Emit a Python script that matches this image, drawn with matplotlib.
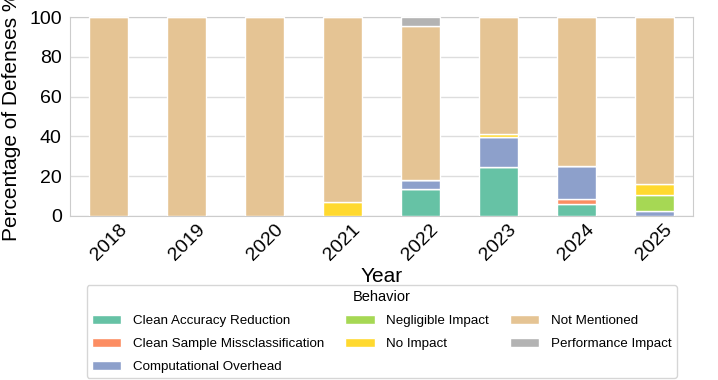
import matplotlib
matplotlib.use("Agg")
import matplotlib.pyplot as plt
import numpy as np

years = ["2018", "2019", "2020", "2021", "2022", "2023", "2024", "2025"]
behaviors = ["Clean Accuracy Reduction", "Clean Sample Missclassification",
             "Computational Overhead", "Negligible Impact", "No Impact",
             "Not Mentioned", "Performance Impact"]
clean_acc = [0, 0, 0, 0, 13.6, 24.4, 6.2, 0]
clean_miss = [0, 0, 0, 0, 0, 0, 2.2, 0]
comp_over = [0, 0, 0, 0, 4.5, 15.2, 16.9, 2.3]
negligible = [0, 0, 0, 0, 0, 0, 0, 8.3]
no_impact = [0, 0, 0, 7.1, 0, 1.8, 0, 5.5]
not_mentioned = [100, 100, 100, 92.9, 77.3, 58.6, 74.7, 83.9]
perf_impact = [0, 0, 0, 0, 4.5, 0, 0, 0]
series = [clean_acc, clean_miss, comp_over, negligible, no_impact, not_mentioned, perf_impact]
colors = ["#66c2a5", "#fc8d62", "#8da0cb", "#a6d854", "#ffd92f", "#e5c494", "#b3b3b3"]

plt.rcParams['font.family'] = ['Liberation Sans', 'DejaVu Sans']
fig = plt.figure(figsize=(7.18, 3.80), dpi=100)
ax_left, ax_w = 0.0975, 0.868
ax = fig.add_axes([ax_left, 0.432, ax_w, 0.523])
x = np.arange(len(years))
bottom = np.zeros(len(years))
for name, vals, c in zip(behaviors, series, colors):
    v = np.array(vals, dtype=float)
    ax.bar(x, v, 0.5, bottom=bottom, color=c, edgecolor="white", linewidth=1, label=name, zorder=3)
    bottom += v

ax.set_xlim(-0.5, len(years) - 0.5)
ax.set_ylim(0, 100)
ax.set_yticks([0, 20, 40, 60, 80, 100])
ax.set_xticks(x)
ax.set_xticklabels(years, rotation=45, fontsize=14)
ax.tick_params(axis='y', labelsize=14, length=0, pad=6)
ax.tick_params(axis='x', length=0, pad=4)
ax.grid(axis='y', color='#dddddd', linewidth=1, zorder=0)
for s in ax.spines.values():
    s.set_color('#cccccc')
ax.set_xlabel("Year", fontsize=15, labelpad=2)
ax.set_ylabel("Percentage of Defenses %", fontsize=15, labelpad=6)

leg = fig.legend(loc='upper center', bbox_to_anchor=(ax_left + ax_w / 2, 0.25),
                 ncol=3, title="Behavior", fontsize=9.6, title_fontsize=10.5,
                 frameon=True, handlelength=2.2, handleheight=0.65, handletextpad=0.85,
                 columnspacing=1.6, labelspacing=0.8, borderaxespad=0.0)
leg.get_frame().set_edgecolor('#cccccc')

fig.savefig("out.png", dpi=100)
